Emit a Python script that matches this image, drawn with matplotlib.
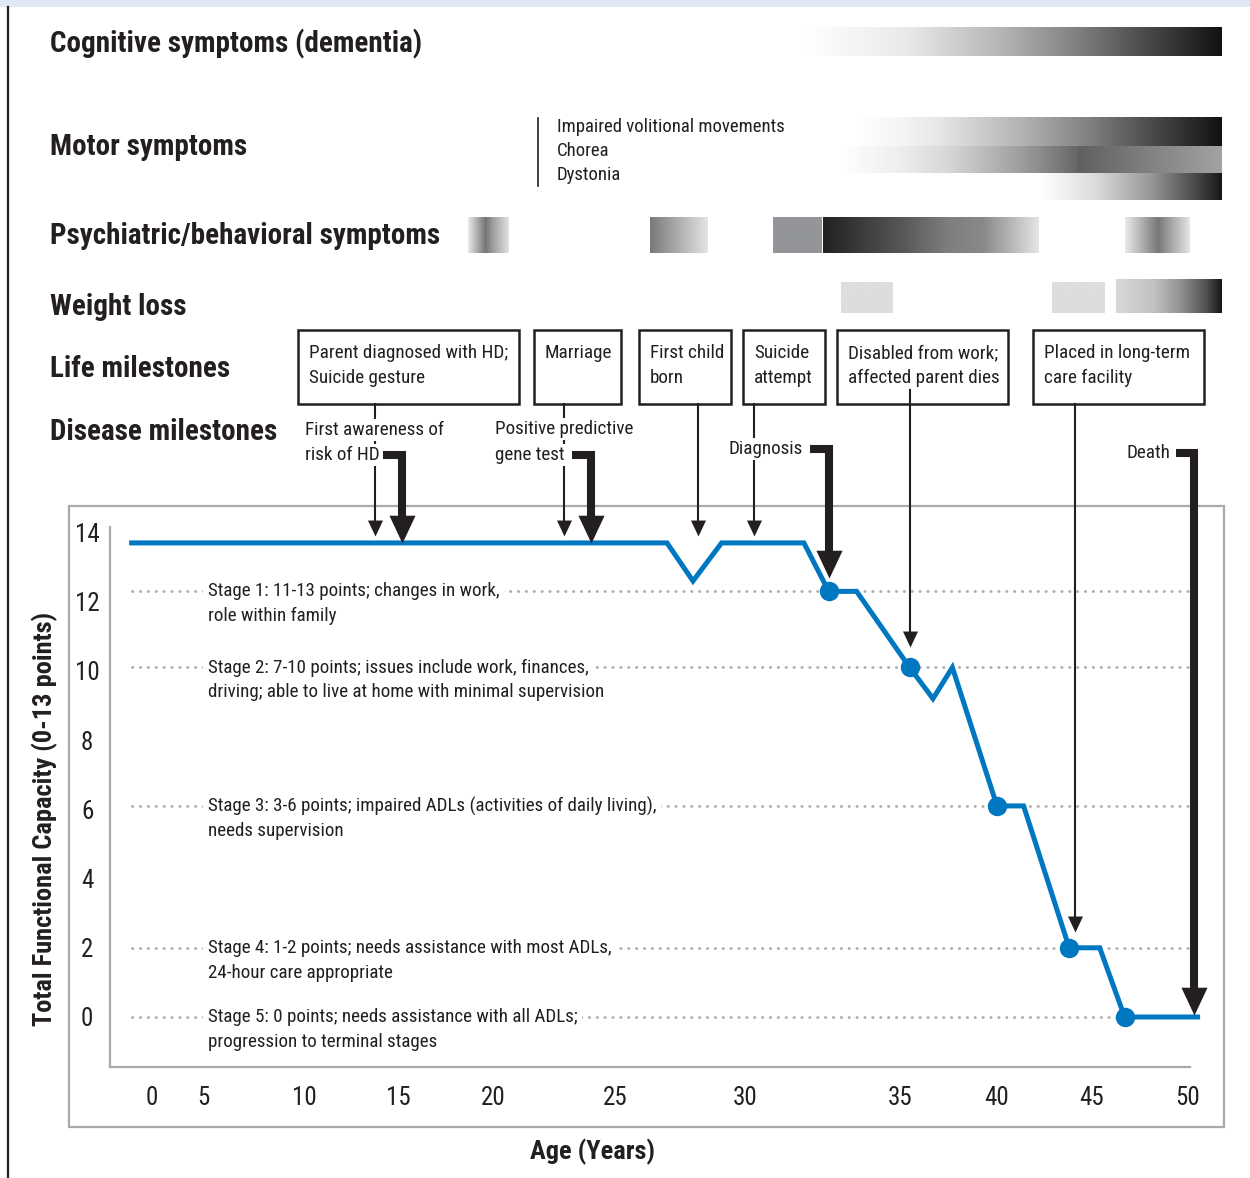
import numpy as np
import matplotlib
matplotlib.use('Agg')
import matplotlib.pyplot as plt
from matplotlib import font_manager as fm
from matplotlib.colors import LinearSegmentedColormap
from matplotlib.patches import Rectangle
from matplotlib.lines import Line2D
from matplotlib.transforms import Affine2D, blended_transform_factory

# ---------------- data ----------------
age_ticks = [0, 5, 10, 15, 20, 25, 30, 35, 40, 45, 50]
tfc_ticks = [0, 2, 4, 6, 8, 10, 12, 14]

# total functional capacity over age
tfc_age = [-2.0, 27.0, 28.0, 29.1, 31.9, 32.7, 33.6, 35.5, 36.7, 37.7, 40.0, 41.4, 43.8, 45.4, 46.7, 50.5]
tfc_val = [13.7, 13.7, 12.6, 13.7, 13.7, 12.3, 12.3, 10.1, 9.2, 10.1, 6.1, 6.1, 2.0, 2.0, 0.0, 0.0]

stage_age = [32.7, 35.5, 40.0, 43.8, 46.7]
stage_val = [12.3, 10.1, 6.1, 2.0, 0.0]
stage_line1 = ["Stage 1: 11-13 points; changes in work,",
               "Stage 2: 7-10 points; issues include work, finances,",
               "Stage 3: 3-6 points; impaired ADLs (activities of daily living),",
               "Stage 4: 1-2 points; needs assistance with most ADLs,",
               "Stage 5: 0 points; needs assistance with all ADLs;"]
stage_line2 = ["role within family",
               "driving; able to live at home with minimal supervision",
               "needs supervision",
               "24-hour care appropriate",
               "progression to terminal stages"]

life_labels = ["Parent diagnosed with HD;\nSuicide gesture", "Marriage", "First child\nborn",
               "Suicide\nattempt", "Disabled from work;\naffected parent dies",
               "Placed in long-term\ncare facility"]
life_age = [13.8, 22.9, 28.2, 30.3, 35.5, 44.1]
life_tip = [13.9, 13.9, 13.9, 13.9, 10.7, 2.45]

disease_labels = ["First awareness of\nrisk of HD", "Positive predictive\ngene test", "Diagnosis", "Death"]
disease_age = [15.2, 24.0, 32.7, 50.3]
disease_tip = [13.7, 13.7, 12.7, 0.05]

row_labels = ["Cognitive symptoms (dementia)", "Motor symptoms", "Psychiatric/behavioral symptoms",
              "Weight loss", "Life milestones", "Disease milestones"]
motor_labels = ["Impaired volitional movements", "Chorea", "Dystonia"]

# symptom bands (start age, end age)
cognitive_spans = [(31.9, 51.8)]
motor_spans = [(33.55, 51.8), (33.05, 44.25), (44.25, 51.8), (42.25, 51.8)]
psych_spans = [(18.7, 20.7), (26.35, 28.6), (30.9, 32.5), (32.5, 42.2), (46.7, 50.1)]
weight_spans = [(33.1, 34.8), (42.9, 45.7), (46.25, 51.8)]

# ---------------- style ----------------
names = {f.name for f in fm.fontManager.ttflist}
FONT = next((n for n in ['Liberation Sans Narrow', 'Roboto Condensed', 'Open Sans Condensed', 'DejaVu Sans']
             if n in names), 'DejaVu Sans')
plt.rcParams['font.family'] = [FONT, 'DejaVu Sans']

INK = '#231f20'
BLUE = '#0077c1'
FRAME = '#a7a9ac'
DOT = '#b0b0b0'

W, H = 1250, 1178
fig = plt.figure(figsize=(W / 100, H / 100), dpi=100)
PX = Affine2D().scale(1 / W, -1 / H).translate(0, 1) + fig.transFigure

# non-uniform age axis, as in the original figure
knot_age = [-20] + age_ticks + [60]
knot_px = [-52, 152, 203, 304, 398, 493, 615, 745, 900, 997, 1092, 1188, 1380]
fwd = lambda a: np.interp(a, knot_age, knot_px)
inv = lambda p: np.interp(p, knot_px, knot_age)

top = fig.add_axes([0, 0, 1, 1])
top.set_xscale('function', functions=(fwd, inv))
top.set_xlim(inv(0), inv(W))
top.set_ylim(H, 0)
top.axis('off')

ax = fig.add_axes([110 / W, 1 - 1067 / H, 1080 / W, 540 / H])
ax.set_xscale('function', functions=(fwd, inv))
ax.set_xlim(inv(110), inv(1190))
ax.set_ylim(-1.445, 14.16)
ax.patch.set_alpha(0)

def row_to_val(row):
    d = top.transData.transform((0, row))
    return ax.transData.inverted().transform(d)[1]

# decorations
fig.add_artist(Rectangle((0, 0), W, 7, transform=PX, fc='#dfe8f5', ec='none', zorder=-2))
fig.add_artist(Line2D([8, 8], [7, H], transform=PX, color=INK, lw=1.6, zorder=-2))
fig.add_artist(Rectangle((69, 506), 1155, 621, transform=PX, fill=False, ec=FRAME, lw=1.6, zorder=-2))

# row headings
for lab, r in zip(row_labels, [44, 147, 236, 307, 369, 432]):
    fig.text(50, r, lab, transform=PX, fontsize=21, fontweight='bold', color=INK, va='center', ha='left')

# gradient bands
def ramp(stops):
    return LinearSegmentedColormap.from_list('r', stops)

grad = np.linspace(0, 1, 256).reshape(1, -1)
dark = ramp([(0, '#ffffff'), (0.18, '#e8e8e8'), (0.42, '#b4b4b4'), (0.62, '#808080'), (0.78, '#505050'), (1, '#111111')])
bands = [
    (cognitive_spans[0], (27, 56), dark),
    (motor_spans[0], (117, 146), dark),
    (motor_spans[1], (146, 173), ramp([(0, '#ffffff'), (0.4, '#d6d6d6'), (0.75, '#9a9a9a'), (1, '#666666')])),
    (motor_spans[2], (146, 173), ramp(['#606060', '#a3a3a3'])),
    (motor_spans[3], (173, 200), ramp([(0, '#ffffff'), (0.3, '#dcdcdc'), (0.6, '#999999'), (0.85, '#4a4a4a'), (1, '#151515')])),
    (psych_spans[0], (217, 253), ramp([(0, '#e8e8e8'), (0.45, '#757575'), (1, '#e8e8e8')])),
    (psych_spans[1], (217, 253), ramp(['#7a7a7a', '#e6e6e6'])),
    (psych_spans[2], (217, 253), ramp(['#939598', '#939598'])),
    (psych_spans[3], (217, 253), ramp([(0, '#222222'), (0.25, '#555555'), (0.5, '#7d7d7b'), (0.7, '#8a8a8a'), (1, '#e6e6e6')])),
    (psych_spans[4], (217, 253), ramp([(0, '#e8e8e8'), (0.5, '#787878'), (1, '#e8e8e8')])),
    (weight_spans[0], (282, 313), ramp(['#dcdddf', '#dcdddf'])),
    (weight_spans[1], (282, 313), ramp(['#dcdddf', '#dcdddf'])),
    (weight_spans[2], (279, 313), ramp([(0, '#d8d8d8'), (0.35, '#c2c2c2'), (0.6, '#929292'), (0.85, '#4f4f4f'), (1, '#111111')])),
]
for (a0, a1), (r0, r1), cm in bands:
    top.imshow(grad, cmap=cm, aspect='auto', extent=(a0, a1, r1, r0), interpolation='bilinear', zorder=1)

# motor legend
top.plot([21.84, 21.84], [118, 186], color=INK, lw=1.2)
for lab, r in zip(motor_labels, [127, 151, 175]):
    fig.text(557, r, lab, transform=PX, fontsize=13.5, color=INK, va='center')

# life milestone boxes
boxes = [(298, 519), (534, 621), (639, 731), (743, 825), (837, 1008), (1033, 1204)]
for (x0, x1), lab in zip(boxes, life_labels):
    fig.add_artist(Rectangle((x0, 330), x1 - x0, 74, transform=PX, fill=False, ec=INK, lw=1.8))
    fig.text(x0 + 11, 344, lab, transform=PX, fontsize=13.8, color=INK, va='top', linespacing=1.5)

# disease milestone labels (one text per line, white backing hides the thin arrows)
label_pos = [(305, [430, 455]), (495, [429, 455]), (728, [449]), (1127, [453])]
for lab, (x, rows) in zip(disease_labels, label_pos):
    for part, r in zip(lab.split('\n'), rows):
        fig.text(x, r, part, transform=PX, fontsize=13.8, color=INK, va='center',
                 bbox=dict(boxstyle='square,pad=0.12', fc='white', ec='none'))

# arrows
head = [(0, 0), (-0.47, 1), (0.47, 1), (0, 0)]
line_top = [404, 404, 404, 404, 390, 404]
for a, tip, r0 in zip(life_age, life_tip, line_top):
    ax.plot([a, a], [row_to_val(r0), tip + 0.25], color=INK, lw=1.5, clip_on=False, zorder=5)
    ax.plot(a, tip, marker=head, ms=23, mew=0, color=INK, clip_on=False, zorder=5)

bracket_start = [14.2, 23.24, 32.1, 49.4]
bracket_row = [455, 455, 449, 453]
for a0, a, tip, r in zip(bracket_start, disease_age, disease_tip, bracket_row):
    v = row_to_val(r)
    ax.plot([a0, a, a], [v, v, tip + 0.5], color=INK, lw=5.8, solid_joinstyle='miter',
            solid_capstyle='butt', clip_on=False, zorder=6)
    ax.plot(a, tip, marker=head, ms=40, mew=0, color=INK, clip_on=False, zorder=6)

# stage guide lines and texts
blend = blended_transform_factory(PX, ax.transData)
for v, l1, l2 in zip(stage_val, stage_line1, stage_line2):
    ax.plot([inv(132), inv(1190)], [v, v], color=DOT, lw=2.1, linestyle=(0, (0.1, 2.6)),
            dash_capstyle='round', zorder=2)
    ax.text(208, v, l1, transform=blend, fontsize=13.7, color=INK, va='center', zorder=3,
            bbox=dict(boxstyle='square,pad=0.25', fc='white', ec='none'))
    ax.annotate(l2, xy=(208, v), xycoords=blend, xytext=(0, -18), textcoords='offset points',
                fontsize=13.7, color=INK, va='center', zorder=3)

# TFC line
ax.plot(tfc_age, tfc_val, color=BLUE, lw=3.6, solid_joinstyle='miter', zorder=4, clip_on=False)
ax.plot(stage_age, stage_val, 'o', color=BLUE, ms=14, mew=0, zorder=7)

# axes styling
for s in ['top', 'right']:
    ax.spines[s].set_visible(False)
for s in ['left', 'bottom']:
    ax.spines[s].set_color(FRAME)
    ax.spines[s].set_linewidth(1.6)
ax.set_xticks(age_ticks)
ax.set_xticklabels([str(t) for t in age_ticks])
ax.set_yticks(tfc_ticks)
ax.set_yticklabels([str(t) for t in tfc_ticks], ha='center')
ax.tick_params(axis='both', length=0, labelsize=18, labelcolor=INK)
ax.tick_params(axis='x', pad=14)
ax.tick_params(axis='y', pad=16.5)

fig.text(593, 1152, 'Age (Years)', transform=PX, fontsize=19, fontweight='bold', color=INK,
         ha='center', va='center')
fig.text(45, 819, 'Total Functional Capacity (0-13 points)', transform=PX, fontsize=19,
         fontweight='bold', color=INK, ha='center', va='center', rotation=90)

fig.savefig('out.png', dpi=100)
